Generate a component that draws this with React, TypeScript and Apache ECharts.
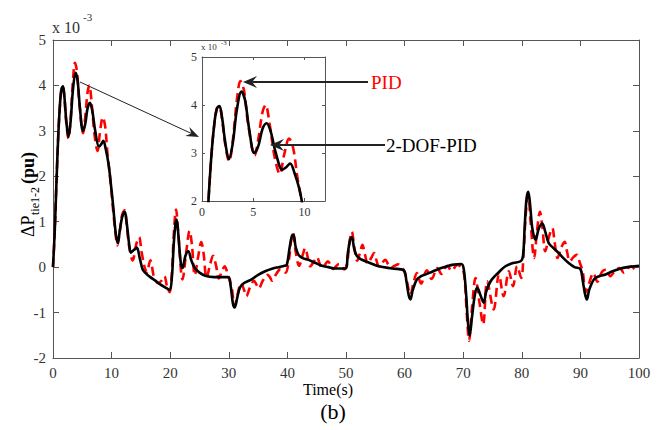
import React, { useEffect, useRef } from "react";
import * as echarts from "echarts";

// 2-DOF-PID (black, solid), values in x10^-3 pu
const blackT = [0, 0.3, 0.6, 0.9, 1.2, 1.45, 1.7, 1.95, 2.25, 2.62, 3.0, 3.4, 3.85, 4.2, 4.6, 5.1, 5.5, 5.9, 6.3, 6.7, 7.2, 7.85, 8.2, 8.6, 9.0, 9.5, 9.9, 10.3, 10.7, 11.05, 11.4, 11.8, 12.25, 12.6, 13.0, 13.3, 13.8, 14.3, 14.8, 15.3, 15.8, 16.6, 17.5, 18.3, 19.2, 19.9, 20.3, 20.6, 20.9, 21.1, 21.4, 21.8, 22.1, 22.6, 23.1, 23.6, 24.2, 25.0, 26.0, 27.5, 29.9, 30.3, 30.7, 31.0, 31.4, 31.9, 32.6, 33.9, 35.0, 36.2, 37.5, 38.5, 39.5, 39.9, 40.4, 40.8, 41.05, 41.4, 41.9, 42.6, 43.6, 44.8, 45.9, 47.0, 48.2, 49.9, 50.3, 50.7, 51.0, 51.4, 51.9, 52.6, 53.3, 54.5, 55.6, 57.9, 59.85, 60.3, 60.7, 61.0, 61.4, 62.1, 62.8, 63.6, 64.7, 65.8, 67.0, 68.1, 69.7, 70.1, 70.5, 70.8, 71.1, 71.5, 72.0, 72.4, 72.9, 73.5, 73.9, 74.4, 74.9, 76.0, 77.2, 78.5, 79.8, 80.2, 80.5, 80.8, 81.1, 81.4, 81.8, 82.35, 82.9, 83.5, 84.0, 84.6, 85.4, 86.3, 87.1, 88.0, 89.0, 90.0, 90.4, 90.8, 91.1, 91.5, 92.3, 93.2, 94.3, 95.5, 96.6, 98.0, 100];
const blackV = [0, 0.8, 1.9, 2.9, 3.6, 3.93, 3.98, 3.75, 3.25, 2.87, 3.2, 3.9, 4.28, 4.1, 3.5, 3.0, 3.15, 3.5, 3.62, 3.45, 3.0, 2.65, 2.7, 2.78, 2.6, 2.25, 1.8, 1.3, 0.75, 0.53, 0.8, 1.1, 1.22, 0.95, 0.5, 0.32, 0.38, 0.43, 0.2, -0.05, -0.13, -0.22, -0.3, -0.38, -0.45, -0.5, -0.2, 0.5, 0.95, 1.05, 0.7, 0.1, -0.02, 0.25, 0.35, 0.15, -0.02, -0.12, -0.19, -0.22, -0.22, -0.4, -0.8, -0.89, -0.7, -0.45, -0.35, -0.27, -0.17, -0.09, -0.03, 0.0, 0.03, 0.05, 0.45, 0.7, 0.71, 0.45, 0.27, 0.2, 0.16, 0.09, 0.03, 0.0, -0.03, -0.03, 0.3, 0.6, 0.66, 0.4, 0.24, 0.17, 0.13, 0.07, 0.02, -0.03, -0.07, -0.3, -0.62, -0.71, -0.5, -0.27, -0.2, -0.16, -0.1, -0.04, 0.01, 0.05, 0.07, -0.05, -0.6, -1.2, -1.51, -1.1, -0.6, -0.45, -0.6, -0.78, -0.55, -0.38, -0.27, -0.12, 0.02, 0.09, 0.13, 0.24, 0.9, 1.5, 1.66, 1.4, 0.85, 0.6, 0.85, 0.96, 0.78, 0.53, 0.42, 0.31, 0.2, 0.09, 0.0, -0.04, -0.3, -0.6, -0.71, -0.5, -0.27, -0.2, -0.16, -0.09, -0.04, 0.0, 0.03];

// PID (red, dashed), values in x10^-3 pu
const redT = [0, 0.3, 0.6, 0.9, 1.2, 1.45, 1.68, 1.95, 2.25, 2.65, 3.0, 3.4, 3.75, 4.1, 4.5, 5.15, 5.5, 5.9, 6.2, 6.6, 7.1, 7.6, 8.0, 8.5, 8.9, 9.3, 9.8, 10.3, 10.7, 11.0, 11.4, 11.8, 12.2, 12.6, 13.0, 13.6, 14.2, 14.7, 15.1, 15.6, 16.0, 16.6, 17.3, 18.0, 18.5, 19.0, 19.5, 19.9, 20.3, 20.6, 21.0, 21.4, 22.1, 22.8, 23.3, 23.7, 24.2, 24.8, 25.3, 25.7, 26.2, 26.8, 27.3, 27.8, 28.3, 28.8, 29.3, 29.7, 30.1, 30.5, 31.0, 31.5, 32.1, 32.6, 33.0, 33.6, 34.3, 34.7, 35.1, 35.8, 36.6, 37.0, 37.4, 38.1, 38.8, 39.3, 39.7, 40.3, 40.6, 40.95, 41.4, 42.0, 42.5, 43.05, 43.5, 43.9, 44.5, 45.05, 45.5, 45.9, 46.4, 46.9, 47.4, 47.8, 48.3, 48.8, 49.3, 49.7, 50.2, 50.6, 51.0, 51.4, 51.9, 52.4, 52.8, 53.2, 53.7, 54.3, 54.8, 55.2, 55.6, 56.2, 56.7, 57.2, 57.6, 58.3, 58.9, 59.4, 59.8, 60.3, 60.7, 61.0, 61.5, 62.1, 62.8, 63.8, 64.6, 65.6, 66.3, 67.3, 68.0, 69.0, 69.8, 70.2, 70.6, 71.0, 71.5, 72.1, 72.8, 73.4, 74.1, 75.2, 76.1, 76.9, 77.8, 78.5, 79.2, 79.9, 80.3, 80.7, 81.1, 81.5, 82.1, 82.6, 83.1, 83.5, 84.0, 84.6, 85.2, 85.6, 86.1, 86.7, 87.3, 87.7, 88.2, 88.8, 89.4, 89.9, 90.4, 90.9, 91.5, 92.2, 92.9, 93.7, 94.4, 95.1, 95.9, 96.7, 97.4, 98.1, 98.7, 99.4, 100];
const redV = [0, 0.8, 1.9, 2.9, 3.6, 3.92, 3.97, 3.72, 3.2, 2.83, 3.25, 4.1, 4.5, 4.3, 3.6, 2.95, 3.3, 3.85, 4.0, 3.6, 2.9, 2.56, 2.95, 3.3, 3.1, 2.5, 1.9, 1.2, 0.7, 0.48, 0.8, 1.15, 1.25, 0.9, 0.45, 0.15, 0.5, 0.66, 0.35, 0.02, -0.12, 0.15, -0.25, -0.35, -0.3, -0.2, -0.45, -0.55, -0.1, 0.7, 1.27, 0.7, -0.27, 0.4, 0.8, 0.5, -0.18, 0.25, 0.55, 0.3, -0.24, 0.05, 0.25, 0.05, -0.25, -0.1, 0.02, -0.1, -0.28, -0.45, -0.86, -0.6, -0.35, -0.5, -0.64, -0.45, -0.3, -0.38, -0.47, -0.3, -0.17, -0.22, -0.3, -0.15, -0.05, -0.08, -0.12, 0.2, 0.55, 0.75, 0.35, 0.03, 0.22, 0.42, 0.2, 0.02, 0.12, 0.22, 0.08, -0.02, 0.05, 0.13, 0.04, -0.04, 0.02, 0.07, 0.0, -0.05, 0.1, 0.55, 0.78, 0.45, 0.14, 0.32, 0.49, 0.3, 0.08, 0.2, 0.31, 0.15, 0.02, 0.1, 0.16, 0.06, -0.02, 0.03, 0.06, 0.0, -0.05, -0.25, -0.5, -0.6, -0.35, -0.13, -0.36, -0.07, -0.26, -0.02, -0.15, 0.03, -0.08, 0.05, -0.03, -0.2, -1.0, -1.62, -0.9, -0.24, -0.8, -1.26, -0.31, -0.93, -0.16, -0.64, -0.09, -0.42, 0.02, -0.24, 0.3, 1.2, 1.58, 1.0, 0.2, 0.8, 1.22, 0.9, 0.35, 0.65, 0.86, 0.55, 0.2, 0.42, 0.56, 0.35, 0.13, 0.22, 0.27, 0.1, -0.1, -0.55, -0.35, -0.13, -0.32, -0.1, -0.05, -0.2, -0.08, -0.02, -0.12, -0.02, 0.02, -0.05, 0.0];

const mainXTicks = [0, 10, 20, 30, 40, 50, 60, 70, 80, 90, 100];
const mainYTicks = [-2, -1, 0, 1, 2, 3, 4, 5];
const insetXTicks = [0, 5, 10];
const insetYTicks = [2, 3, 4, 5];

const zip = (t: number[], v: number[]) => t.map((x, i) => [x, v[i]]);

const FONT = "Liberation Serif";
const AX = "#555";

function arrow(x1: number, y1: number, x2: number, y2: number, lw: number, hl: number, hw: number, color: string) {
  const dx = x2 - x1, dy = y2 - y1;
  const len = Math.hypot(dx, dy);
  const ux = dx / len, uy = dy / len;
  const nx = -uy, ny = ux;
  const bx = x2 - ux * hl, by = y2 - uy * hl;
  const mx = x2 - ux * hl * 0.65, my = y2 - uy * hl * 0.65;
  return [
    { type: "line", shape: { x1, y1, x2: mx, y2: my }, style: { stroke: color, lineWidth: lw }, z: 10 },
    {
      type: "polygon",
      shape: { points: [[x2, y2], [bx + nx * hw / 2, by + ny * hw / 2], [mx, my], [bx - nx * hw / 2, by - ny * hw / 2]] },
      style: { fill: color },
      z: 10,
    },
  ];
}

function valueAxis(gridIndex: number, position: string, min: number, max: number, ticks: number[], showLabel: boolean, fontSize: number, tickLen: number, margin: number) {
  return {
    type: "value",
    gridIndex,
    position,
    min,
    max,
    axisLine: { show: true, onZero: false, lineStyle: { color: AX, width: 1 } },
    axisTick: { show: true, inside: true, length: tickLen, customValues: ticks, lineStyle: { color: AX, width: 1 } },
    axisLabel: { show: showLabel, customValues: ticks, color: "#333", fontFamily: FONT, fontSize, margin },
    splitLine: { show: false },
  };
}

function txt(x: number, y: number, text: string, size: number, fill: string, extra: any = {}) {
  return {
    type: "text",
    x,
    y,
    style: { text, fontFamily: FONT, fontSize: size, fill, verticalAlign: "middle", ...extra },
  };
}

export default function App() {
  const ref = useRef<HTMLDivElement>(null);
  useEffect(() => {
    if (!ref.current) return;
    const chart = echarts.init(ref.current, null, { renderer: "svg" });
    const black = zip(blackT, blackV);
    const red = zip(redT, redV);
    const redStyle = { color: "#ff0000", width: 2.6, type: [9, 5] as any };
    const blackStyle = { color: "#000000", width: 2.6 };
    const option: any = {
      animation: false,
      backgroundColor: "#ffffff",
      grid: [
        { left: 53, top: 40, width: 586, height: 318, show: false },
        { left: 202, top: 57, width: 123, height: 144, show: true, backgroundColor: "#ffffff", borderWidth: 0 },
      ],
      xAxis: [
        valueAxis(0, "bottom", 0, 100, mainXTicks, true, 15, 6, 7),
        valueAxis(0, "top", 0, 100, mainXTicks, false, 15, 6, 7),
        valueAxis(1, "bottom", 0, 12, insetXTicks, true, 12, 3, 5),
        valueAxis(1, "top", 0, 12, insetXTicks, false, 12, 3, 5),
      ],
      yAxis: [
        valueAxis(0, "left", -2, 5, mainYTicks, true, 15, 6, 7),
        valueAxis(0, "right", -2, 5, mainYTicks, false, 15, 6, 7),
        valueAxis(1, "left", 2, 5, insetYTicks, true, 12, 3, 5),
        valueAxis(1, "right", 2, 5, insetYTicks, false, 12, 3, 5),
      ],
      series: [
        { name: "PID", type: "line", xAxisIndex: 0, yAxisIndex: 0, data: red, showSymbol: false, symbol: "none", smooth: 0.35, lineStyle: redStyle, z: 2 },
        { name: "2-DOF-PID", type: "line", xAxisIndex: 0, yAxisIndex: 0, data: black, showSymbol: false, symbol: "none", smooth: 0.35, lineStyle: blackStyle, z: 3 },
        { name: "PID inset", type: "line", xAxisIndex: 2, yAxisIndex: 2, data: red, showSymbol: false, symbol: "none", smooth: 0.35, clip: true, lineStyle: redStyle, z: 4 },
        { name: "2-DOF-PID inset", type: "line", xAxisIndex: 2, yAxisIndex: 2, data: black, showSymbol: false, symbol: "none", smooth: 0.35, clip: true, lineStyle: blackStyle, z: 5 },
      ],
      graphic: [
        txt(52, 27, "x 10", 16, "#333"),
        txt(83, 17, "-3", 11, "#333"),
        txt(201, 47, "x 10", 9, "#333"),
        txt(221, 43, "-3", 7, "#333"),
        {
          type: "group",
          x: 28,
          y: 237,
          rotation: Math.PI / 2,
          children: [
            txt(0, 0, "ΔP", 18, "#000"),
            txt(22, 7, "tie1-2", 12, "#000"),
            txt(53, 0, "(pu)", 18, "#000", { fontWeight: "bold" }),
          ],
        },
        txt(328, 389, "Time(s)", 16, "#000", { align: "center" }),
        txt(333, 411, "(b)", 22, "#000", { align: "center" }),
        txt(371, 82, "PID", 19, "#ff0000"),
        txt(386, 145, "2-DOF-PID", 19, "#000"),
        ...arrow(80, 82, 199, 137, 1, 13, 10, "#222"),
        ...arrow(368, 82, 243, 82, 1.8, 14, 12, "#222"),
        ...arrow(385, 145, 270, 145, 1.8, 14, 12, "#222"),
      ],
    };
    chart.setOption(option);
    return () => chart.dispose();
  }, []);
  return <div ref={ref} style={{ position: "fixed", left: 0, top: 0, width: 662, height: 430 }} />;
}
